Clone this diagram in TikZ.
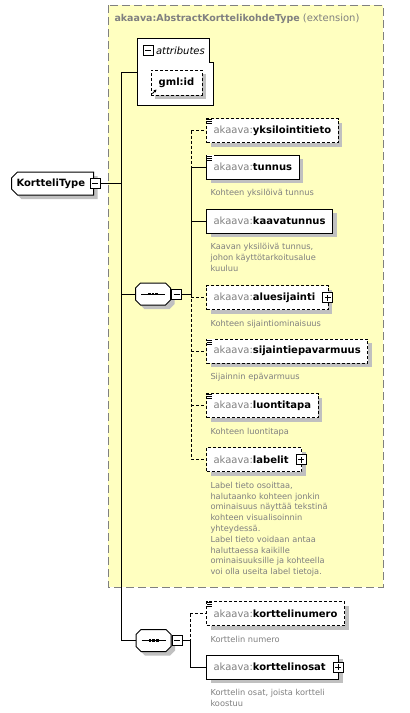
\documentclass[tikz,border=0pt]{standalone}
\usepackage{fontspec}
\setmainfont{DejaVu Sans}
\usepackage{tikz}
\usetikzlibrary{positioning,shadows,shapes.misc,arrows.meta}
\definecolor{extyellow}{RGB}{255,255,192}
\definecolor{nsgray}{RGB}{128,128,128}
\definecolor{shadowgray}{RGB}{192,192,192}
\newcommand{\akel}[1]{\textcolor{nsgray}{akaava:}\textbf{#1}}
\newcommand{\docicon}[1]{%
  \fill[white] ([xshift=0.5pt,yshift=-0.5pt]#1.north west) rectangle ++(7pt,-6.5pt);
  \foreach \k in {1.5,3.5,5.5}
    \draw[line width=0.8pt] ([xshift=1pt,yshift=-\k pt]#1.north west) -- ++(5pt,0pt);}
\newcommand{\seqoutline}[1]{%
  \draw[fill=white, shadowed] ([xshift=5pt]#1.north west) -- ([xshift=-5pt]#1.north east)
    -- ([yshift=-5pt]#1.north east) -- ([yshift=5pt]#1.south east)
    -- ([xshift=-5pt]#1.south east) -- ([xshift=5pt]#1.south west)
    -- ([yshift=5pt]#1.south west) -- ([yshift=-5pt]#1.north west) -- cycle;
  \draw ([xshift=-12pt]#1.center) -- ([xshift=12pt]#1.center);
  \foreach \d in {-3.6,0,3.6}
    \fill ([xshift=\d pt]#1.center) +(-1.4pt,-1.4pt) rectangle +(1.4pt,1.4pt);}
\tikzset{
  shadowed/.style={general shadow={fill=shadowgray, shadow xshift=4pt, shadow yshift=-4pt}},
  elem/.style={draw, fill=white, anchor=west, minimum height=24pt, inner xsep=7pt,
    font=\fontsize{10}{12}\selectfont, shadowed},
  optelem/.style={elem, dash pattern=on 3pt off 2pt},
  optline/.style={dash pattern=on 3pt off 2pt},
  desc/.style={anchor=north west, inner sep=0pt, align=left, text=nsgray,
    font=\fontsize{8.25}{10.8}\selectfont},
  minusbox/.style={draw, fill=white, minimum size=10pt, inner sep=0pt,
    path picture={\draw ([xshift=2pt]path picture bounding box.west) -- ([xshift=-2pt]path picture bounding box.east);}},
  plusbox/.style={draw, fill=white, minimum size=10pt, inner sep=0pt,
    path picture={\draw ([xshift=2pt]path picture bounding box.west) -- ([xshift=-2pt]path picture bounding box.east);
      \draw ([yshift=2pt]path picture bounding box.south) -- ([yshift=-2pt]path picture bounding box.north);}},
  seqframe/.style={rectangle, minimum width=34pt, minimum height=21pt, inner sep=0pt},
  rootbox/.style={chamfered rectangle, chamfered rectangle corners={north west,south west},
    chamfered rectangle sep=3pt, draw, fill=white, anchor=west, minimum height=23pt,
    text width=72pt, align=left, inner xsep=2pt, font=\fontsize{10}{12}\selectfont\bfseries, shadowed}
}
\begin{document}
\begin{tikzpicture}[x=1pt, y=-1pt, line width=1pt]
 \useasboundingbox[fill=white] (0,0) rectangle (410,713);
 % extension of the abstract type
 \draw[draw=nsgray, fill=extyellow, dash pattern=on 8pt off 4pt] (108,5) rectangle (383,587);
 \node[anchor=west, inner sep=0pt, text=nsgray] (extTitle) at (114,19)
   {\fontsize{9.5}{12}\selectfont\textbf{akaava:AbstractKorttelikohdeType} \fontsize{10}{12}\selectfont(extension)};

 % attributes
 \draw[fill=white] (137,38) -- (209,38) -- (209,62) -- (213,62) -- (213,105) -- (137,105) -- cycle;
 \coordinate (attrs) at (137,72);
 \node[minusbox] (attrsMinus) at (148,50.5) {};
 \node[right=2pt of attrsMinus, inner sep=0pt, font=\fontsize{10}{12}\selectfont\itshape] (attrsLabel) {attributes};
 \node[optelem, anchor=center, minimum width=51pt, minimum height=25pt, inner xsep=0pt] (gmlid) at (176.5,82.5) {\textbf{gml:id}};
 \draw[-{Stealth[length=3pt,width=3pt]}, line width=0.8pt] (152.5,93.5) -- (156.5,89.5);

 % root type
 \node[rootbox] (kortteli) at (11,183.5) {KortteliType};
 \node[minusbox] (korttMinus) at ([xshift=1pt]kortteli.east) {};

 % sequences
 \node[seqframe] (seqA) at (153,294) {};
 \seqoutline{seqA}
 \node[minusbox, right=0.5pt of seqA] (seqAMinus) {};
 \node[seqframe] (seqB) at (153.5,640.5) {};
 \seqoutline{seqB}
 \node[minusbox, right=0.5pt of seqB] (seqBMinus) {};

 \coordinate (busM) at (121,0);
 \coordinate (busA) at (191,0);
 \coordinate (busB) at (190,0);

 % elements of the first sequence
 \node[optelem] (yks) at (206,130.5) {\akel{yksilointitieto}};
 \node[elem] (tunnus) at (206,167) {\akel{tunnus}};
 \node[elem] (kaava) at (206,221) {\akel{kaavatunnus}};
 \node[optelem] (alue) at (206,297.5) {\akel{aluesijainti}\kern6pt};
 \node[optelem] (sijepa) at (206,351) {\akel{sijaintiepavarmuus}};
 \node[optelem] (luonti) at (206,405.5) {\akel{luontitapa}};
 \node[optelem] (labelit) at (206,459.5) {\akel{labelit}\kern6pt};
 \node[plusbox] (aluePlus) at ([xshift=-1pt]alue.east) {};
 \node[plusbox] (labelitPlus) at ([xshift=-1pt]labelit.east) {};
 \foreach \e in {yks,tunnus,sijepa,luonti} {\docicon{\e}}

 \node[desc, below right=9.5pt and 4pt of tunnus.south west] (tunnusDesc) {Kohteen yksilöivä tunnus};
 \node[desc, below right=9.5pt and 4pt of kaava.south west] (kaavaDesc) {Kaavan yksilöivä tunnus,\\johon käyttötarkoitusalue\\kuuluu};
 \node[desc, below right=9.5pt and 4pt of alue.south west] (alueDesc) {Kohteen sijaintiominaisuus};
 \node[desc, below right=9.5pt and 4pt of sijepa.south west] (sijepaDesc) {Sijainnin epävarmuus};
 \node[desc, below right=9.5pt and 4pt of luonti.south west] (luontiDesc) {Kohteen luontitapa};
 \node[desc, below right=9.5pt and 4pt of labelit.south west] (labelitDesc) {Label tieto osoittaa,\\halutaanko kohteen jonkin\\ominaisuus näyttää tekstinä\\kohteen visualisoinnin\\yhteydessä.\\Label tieto voidaan antaa\\haluttaessa kaikille\\ominaisuuksille ja kohteella\\voi olla useita label tietoja.};

 % elements of the second sequence
 \node[optelem] (knum) at (206,613.5) {\akel{korttelinumero}};
 \node[elem] (kosat) at (206,667) {\akel{korttelinosat}\kern6pt};
 \node[plusbox] (kosatPlus) at ([xshift=-1pt]kosat.east) {};
 \docicon{knum}
 \node[desc, below right=9.5pt and 4pt of knum.south west] (knumDesc) {Korttelin numero};
 \node[desc, below right=9.5pt and 4pt of kosat.south west] (kosatDesc) {Korttelin osat, joista kortteli\\koostuu};

 % connectors
 \draw (korttMinus.east) -- (korttMinus.east -| busM);
 \draw (attrs) -- (attrs -| busM) -- (busM |- seqB) -- (seqB.west);
 \draw (busM |- seqA) -- (seqA.west);
 \draw (seqAMinus.east) -- (seqAMinus.east -| busA);
 \draw[optline] (yks.west -| busA) -- (tunnus.west -| busA);
 \draw (tunnus.west -| busA) -- (seqA -| busA);
 \draw[optline] (seqA -| busA) -- (labelit.west -| busA);
 \draw (tunnus.west -| busA) -- (tunnus.west);
 \draw (kaava.west -| busA) -- (kaava.west);
 \foreach \e in {yks,alue,sijepa,luonti,labelit} {\draw[optline] (\e.west -| busA) -- (\e.west);}
 \draw (seqBMinus.east) -- (seqBMinus.east -| busB);
 \draw[optline] (knum.west -| busB) -- (seqB -| busB);
 \draw (seqB -| busB) -- (kosat.west -| busB);
 \draw[optline] (knum.west -| busB) -- (knum.west);
 \draw (kosat.west -| busB) -- (kosat.west);
\end{tikzpicture}
\end{document}
